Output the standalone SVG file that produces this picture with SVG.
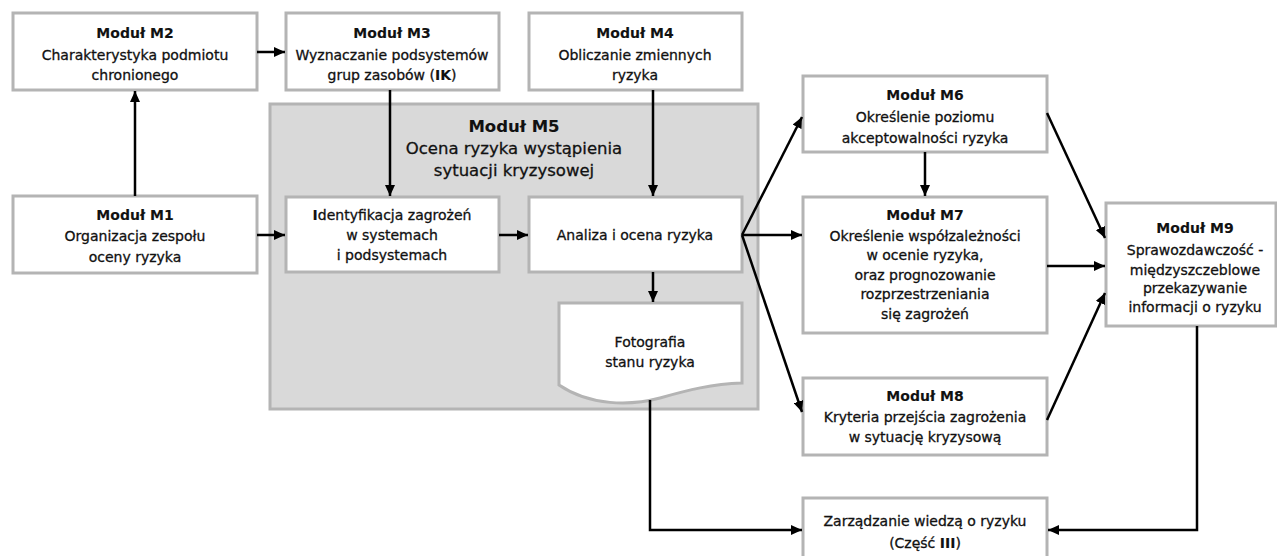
<svg xmlns="http://www.w3.org/2000/svg" width="1277" height="556" viewBox="0 0 1277 556">
<defs>
<marker id="ah" markerUnits="userSpaceOnUse" markerWidth="12" markerHeight="10" refX="11" refY="5" orient="auto">
<path d="M0,0 L11,5 L0,10 z" fill="#000"/>
</marker>
<style>
.box{fill:#fff;stroke:#b4b4b4;stroke-width:3}
.grp{fill:#d9d9d9;stroke:#b4b4b4;stroke-width:3}
text{font-family:"DejaVu Sans","Noto Sans",sans-serif;font-size:14px;fill:#111;stroke:#111;stroke-width:0.3;text-anchor:middle}
.t{font-weight:bold;stroke-width:0.1}
.big{font-size:16.5px}
.c{fill:none;stroke:#000;stroke-width:2.5;marker-end:url(#ah)}
</style>
</defs>
<rect width="1277" height="556" fill="#fff"/>

<g id="M5">
<rect class="grp" x="270" y="104" width="488" height="305"/>
<text class="t big" x="514" y="132">Moduł M5</text>
<text class="big" x="514" y="154">Ocena ryzyka wystąpienia</text>
<text class="big" x="514" y="176">sytuacji kryzysowej</text>
</g>

<g id="M2">
<rect class="box" x="13" y="13" width="244" height="77"/>
<text class="t" x="135" y="38">Moduł M2</text>
<text x="135" y="60">Charakterystyka podmiotu</text>
<text x="135" y="80">chronionego</text>
</g>

<g id="M3">
<rect class="box" x="286" y="13" width="213" height="77"/>
<text class="t" x="392" y="38">Moduł M3</text>
<text x="392" y="60">Wyznaczanie podsystemów</text>
<text x="392" y="80">grup zasobów (<tspan class="t">IK</tspan>)</text>
</g>

<g id="M4">
<rect class="box" x="529" y="13" width="213" height="77"/>
<text class="t" x="635" y="38">Moduł M4</text>
<text x="635" y="60">Obliczanie zmiennych</text>
<text x="635" y="80">ryzyka</text>
</g>

<g id="M1">
<rect class="box" x="13" y="196" width="244" height="77"/>
<text class="t" x="135" y="220">Moduł M1</text>
<text x="135" y="241">Organizacja zespołu</text>
<text x="135" y="262">oceny ryzyka</text>
</g>

<g id="ident">
<rect class="box" x="286" y="197" width="213" height="75"/>
<text x="392" y="220"><tspan class="t">I</tspan>dentyfikacja zagrożeń</text>
<text x="392" y="240">w systemach</text>
<text x="392" y="260">i podsystemach</text>
</g>

<g id="analiza">
<rect class="box" x="529" y="197" width="213" height="75"/>
<text x="635" y="240">Analiza i ocena ryzyka</text>
</g>

<g id="foto">
<path class="box" d="M559,303 L742,303 L742,383 C712,384 688,390 660,398 C630,406 590,406 559,385 Z"/>
<text x="650" y="347">Fotografia</text>
<text x="650" y="367">stanu ryzyka</text>
</g>

<g id="M6">
<rect class="box" x="803" y="76" width="244" height="76"/>
<text class="t" x="925" y="100">Moduł M6</text>
<text x="925" y="122">Określenie poziomu</text>
<text x="925" y="143">akceptowalności ryzyka</text>
</g>

<g id="M7">
<rect class="box" x="803" y="197" width="244" height="136"/>
<text class="t" x="925" y="220">Moduł M7</text>
<text x="925" y="241">Określenie współzależności</text>
<text x="925" y="260">w ocenie ryzyka,</text>
<text x="925" y="280">oraz prognozowanie</text>
<text x="925" y="299">rozprzestrzeniania</text>
<text x="925" y="319">się zagrożeń</text>
</g>

<g id="M8">
<rect class="box" x="803" y="378" width="244" height="77"/>
<text class="t" x="925" y="401">Moduł M8</text>
<text x="925" y="422">Kryteria przejścia zagrożenia</text>
<text x="925" y="442">w sytuację kryzysową</text>
</g>

<g id="M9">
<rect class="box" x="1106" y="203" width="170" height="123"/>
<text class="t" x="1195" y="233">Moduł M9</text>
<text x="1195" y="255">Sprawozdawczość -</text>
<text x="1195" y="275">międzyszczeblowe</text>
<text x="1195" y="293">przekazywanie</text>
<text x="1195" y="312">informacji o ryzyku</text>
</g>

<g id="wiedza">
<rect class="box" x="803" y="498" width="244" height="62"/>
<text x="925" y="526">Zarządzanie wiedzą o ryzyku</text>
<text x="925" y="548">(Część <tspan class="t">III</tspan>)</text>
</g>

<g id="connectors">
<path class="c" d="M135,196 L135,91"/>
<path class="c" d="M257,52 L285,52"/>
<path class="c" d="M257,235 L285,235"/>
<path class="c" d="M390,90 L390,196"/>
<path class="c" d="M653,90 L653,196"/>
<path class="c" d="M499,235 L528,235"/>
<path class="c" d="M653,272 L653,302"/>
<path class="c" d="M742,235 L802,117"/>
<path class="c" d="M742,235 L802,235"/>
<path class="c" d="M742,235 L802,412"/>
<path class="c" d="M925,152 L925,196"/>
<path class="c" d="M1047,113 L1105,238"/>
<path class="c" d="M1047,266 L1105,266"/>
<path class="c" d="M1047,420 L1105,293"/>
<path class="c" d="M1197,326 L1197,530 L1048,530"/>
<path class="c" d="M650,400 L650,530 L802,530"/>
</g>
</svg>
